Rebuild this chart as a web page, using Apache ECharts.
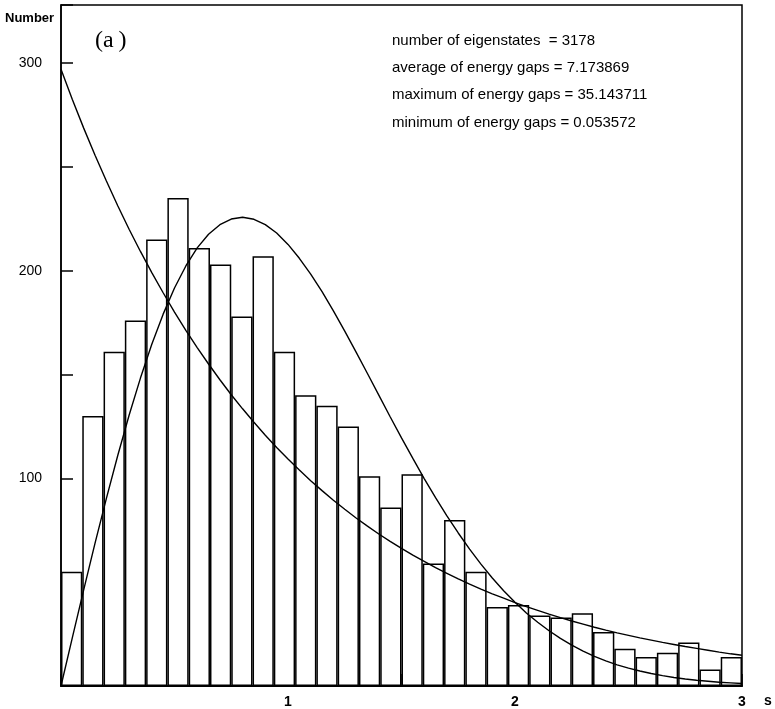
<!DOCTYPE html>
<html>
<head>
<meta charset="utf-8">
<script src="https://cdn.jsdelivr.net/npm/echarts@6/dist/echarts.min.js"></script>
<style>
  html, body { margin: 0; padding: 0; background: #fff; }
  #chart-container { width: 775px; height: 709px; }
</style>
</head>
<body>
<div id="chart-container"></div>
<script>
// histogram of level spacings, 32 bins between s = 0 and s = 3
var binCounts = [55, 130, 161, 176, 215, 235, 211, 203, 178, 207, 161, 140, 135, 125, 101, 86,
  102, 59, 80, 55, 38, 39, 34, 33, 35, 26, 18, 14, 16, 21, 8, 14];
var binLabels = binCounts.map(function (v, i) { return "b" + (i + 1); });

// curves at s = 0, 0.05, ... 3
var curveS = [0, 0.05, 0.1, 0.15, 0.2, 0.25, 0.3, 0.35, 0.4, 0.45, 0.5, 0.55, 0.6, 0.65, 0.7, 0.75,
  0.8, 0.85, 0.9, 0.95, 1, 1.05, 1.1, 1.15, 1.2, 1.25, 1.3, 1.35, 1.4, 1.45, 1.5, 1.55,
  1.6, 1.65, 1.7, 1.75, 1.8, 1.85, 1.9, 1.95, 2, 2.05, 2.1, 2.15, 2.2, 2.25, 2.3, 2.35,
  2.4, 2.45, 2.5, 2.55, 2.6, 2.65, 2.7, 2.75, 2.8, 2.85, 2.9, 2.95, 3];
var poissonValues = [297, 282.5, 268.7, 255.6, 243.2, 231.3, 220, 209.3, 199.1, 189.4, 180.1, 171.3, 163, 155.1, 147.5, 140.3,
  133.5, 127, 120.8, 114.9, 109.3, 104, 98.9, 94.1, 89.5, 85.1, 80.9, 77, 73.2, 69.7, 66.3, 63,
  60, 57, 54.3, 51.6, 49.1, 46.7, 44.4, 42.3, 40.2, 38.2, 36.4, 34.6, 32.9, 31.3, 29.8, 28.3,
  26.9, 25.6, 24.4, 23.2, 22.1, 21, 20, 19, 18.1, 17.2, 16.3, 15.5, 14.8];
var wignerValues = [0, 23.3, 46.3, 68.8, 90.4, 111, 130.4, 148.3, 164.6, 179.1, 191.7, 202.3, 211, 217.6, 222.2, 224.9,
  225.8, 224.8, 222.2, 218.2, 212.7, 206, 198.4, 189.9, 180.7, 170.9, 160.8, 150.5, 140.1, 129.7, 119.5, 109.6,
  99.9, 90.7, 81.9, 73.7, 65.9, 58.7, 52, 45.9, 40.3, 35.2, 30.7, 26.6, 22.9, 19.7, 16.8, 14.3,
  12.1, 10.2, 8.6, 7.2, 6, 5, 4.1, 3.4, 2.8, 2.3, 1.8, 1.5, 1.2];

var xTickLabels = [1, 2, 3];
var yTickLabels = [100, 200, 300];
var statsLines = [
  "number of eigenstates  = 3178",
  "average of energy gaps = 7.173869",
  "maximum of energy gaps = 35.143711",
  "minimum of energy gaps = 0.053572"
];

var labelFont = "'Liberation Sans Narrow', 'Liberation Sans', sans-serif";

function pairs(xs, ys) {
  return xs.map(function (x, i) { return [x, ys[i]]; });
}

var dom = document.getElementById("chart-container");
var myChart = echarts.init(dom, null, { renderer: "canvas" });

var graphics = [
  {
    type: "text", left: 5, top: 12,
    style: { text: "Number", font: "bold 13px " + labelFont, fill: "#000" }
  },
  {
    type: "text", left: 95, top: 29,
    style: { text: "(a\u2009)", font: "24px 'Liberation Serif', 'DejaVu Serif', serif", fill: "#000" }
  }
];
statsLines.forEach(function (line, i) {
  graphics.push({
    type: "text", left: 392, top: 33 + i * 27.4,
    style: { text: line, font: "15px " + labelFont, fill: "#000" }
  });
});

var option = {
  backgroundColor: "#fff",
  animation: false,
  grid: {
    left: 61, right: 33, top: 5, bottom: 22,
    show: true, borderColor: "#000", borderWidth: 1.5, backgroundColor: "transparent"
  },
  graphic: graphics,
  xAxis: [
    {
      type: "value", min: 0, max: 3, interval: 0.5,
      name: "s", nameLocation: "end", nameGap: 22,
      nameTextStyle: { color: "#000", fontSize: 14, fontFamily: labelFont, fontWeight: "bold", verticalAlign: "top", padding: [8, 0, 0, 0] },
      axisLine: { lineStyle: { color: "#000", width: 2 } },
      axisTick: { inside: true, length: 12, lineStyle: { color: "#000", width: 1.5 } },
      splitLine: { show: false },
      axisLabel: {
        margin: 9, color: "#000", fontSize: 14, fontWeight: "bold", fontFamily: labelFont,
        showMaxLabel: true,
        formatter: function (v) { return xTickLabels.indexOf(v) >= 0 ? String(v) : ""; }
      }
    },
    {
      type: "category", data: binLabels, boundaryGap: true, show: false
    }
  ],
  yAxis: {
    type: "value", min: 0, max: 328, interval: 50,
    axisLine: { show: true, lineStyle: { color: "#000", width: 1.5 } },
    axisTick: { show: true, inside: true, length: 12, lineStyle: { color: "#000", width: 1.5 } },
    splitLine: { show: false },
    axisLabel: {
      margin: 19, color: "#000", fontSize: 14, fontFamily: labelFont,
      formatter: function (v) { return yTickLabels.indexOf(v) >= 0 ? String(v) : ""; }
    }
  },
  series: [
    {
      type: "bar", xAxisIndex: 1, data: binCounts,
      barCategoryGap: "0%",
      itemStyle: { color: "#fff", borderColor: "#000", borderWidth: 1.5 }
    },
    {
      type: "line", xAxisIndex: 0, data: pairs(curveS, poissonValues),
      smooth: false, showSymbol: false, z: 5,
      lineStyle: { color: "#000", width: 1.4 }
    },
    {
      type: "line", xAxisIndex: 0, data: pairs(curveS, wignerValues),
      smooth: false, showSymbol: false, z: 5,
      lineStyle: { color: "#000", width: 1.4 }
    }
  ]
};

myChart.setOption(option);
window.addEventListener("resize", myChart.resize);
</script>
</body>
</html>
